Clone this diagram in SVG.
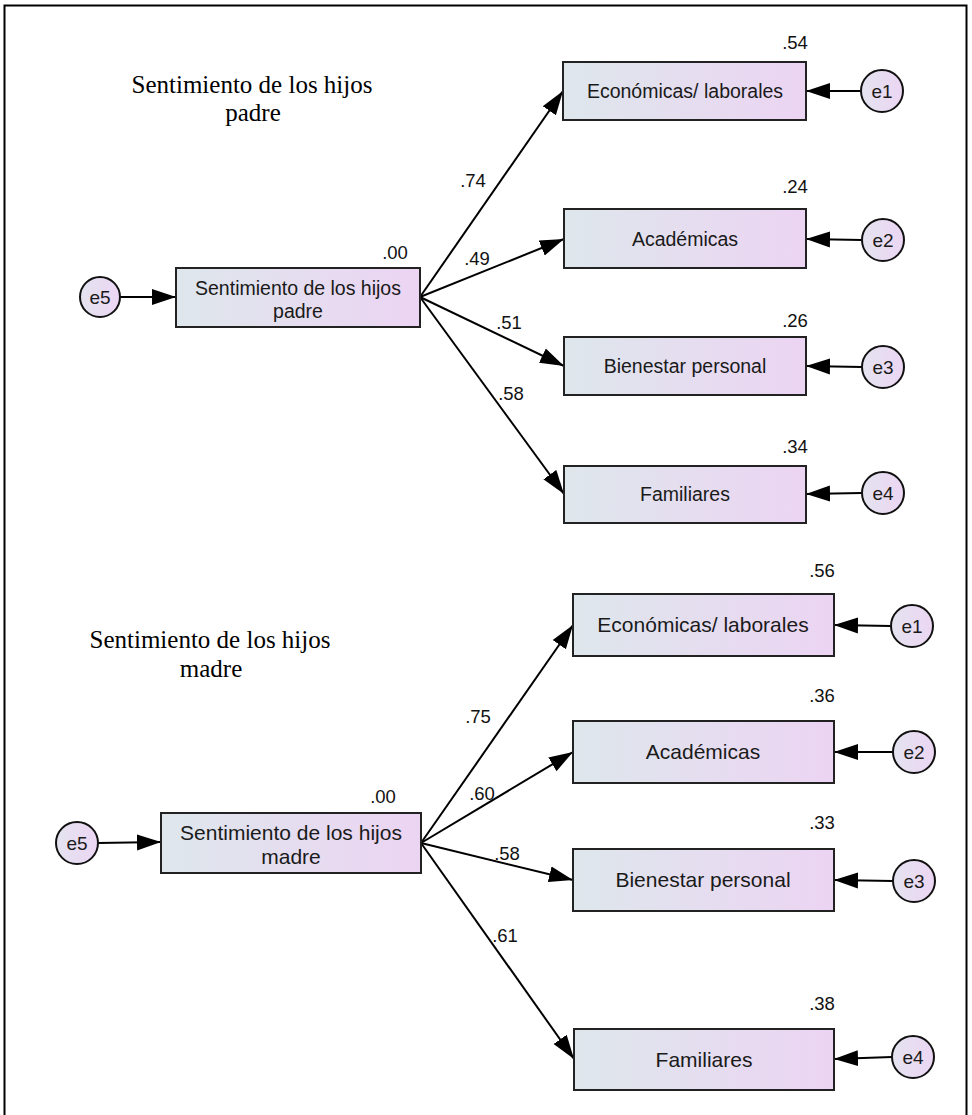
<svg xmlns="http://www.w3.org/2000/svg" width="972" height="1115" viewBox="0 0 972 1115">
<defs>
<linearGradient id="gbox" x1="0" y1="0" x2="1" y2="0">
<stop offset="0" stop-color="#dee7ec"/>
<stop offset="1" stop-color="#ecd4f3"/>
</linearGradient>
<linearGradient id="gcirc" x1="0" y1="0" x2="1" y2="0">
<stop offset="0" stop-color="#e4e3f0"/>
<stop offset="1" stop-color="#ecd6f3"/>
</linearGradient>
<marker id="ah" markerUnits="userSpaceOnUse" markerWidth="26" markerHeight="18" refX="24" refY="9" orient="auto">
<path d="M0,1 L24,9 L0,17 Z" fill="#000"/>
</marker>
<style>
.box{fill:url(#gbox);stroke:#222;stroke-width:2}
.circ{fill:url(#gcirc);stroke:#111;stroke-width:2}
.t1{font-family:"Liberation Sans",Arial,sans-serif;font-size:19.5px;fill:#1a1a1a;text-anchor:middle}
.t2{font-family:"Liberation Sans",Arial,sans-serif;font-size:21px;fill:#1a1a1a;text-anchor:middle}
.te{font-family:"Liberation Sans",Arial,sans-serif;font-size:19px;fill:#1a1a1a;text-anchor:middle}
.lab{font-family:"Liberation Sans",Arial,sans-serif;font-size:18.5px;fill:#111;text-anchor:middle}
.title{font-family:"Liberation Serif","Times New Roman",serif;font-size:25px;fill:#000;text-anchor:middle}
.con{stroke:#000;stroke-width:2;fill:none;marker-end:url(#ah)}
</style>
</defs>
<rect x="0" y="0" width="972" height="1115" fill="#fff"/>
<rect x="4.5" y="5.5" width="962" height="1125" fill="none" stroke="#000" stroke-width="2"/>

<g id="title-padre">
<text class="title" x="252" y="93">Sentimiento de los hijos</text>
<text class="title" x="253" y="121">padre</text>
</g>
<g id="title-madre">
<text class="title" x="210" y="648">Sentimiento de los hijos</text>
<text class="title" x="211" y="677">madre</text>
</g>

<g id="connectors">
<line class="con" x1="120" y1="297" x2="176" y2="297"/>
<line class="con" x1="420" y1="297" x2="563" y2="91"/>
<line class="con" x1="420" y1="297" x2="564" y2="239"/>
<line class="con" x1="420" y1="297" x2="564" y2="366"/>
<line class="con" x1="420" y1="297" x2="564" y2="494"/>
<line class="con" x1="861" y1="91" x2="806" y2="91"/>
<line class="con" x1="862" y1="240" x2="806" y2="239"/>
<line class="con" x1="862" y1="367" x2="806" y2="366"/>
<line class="con" x1="862" y1="493" x2="806" y2="494"/>

<line class="con" x1="98" y1="843" x2="161" y2="842"/>
<line class="con" x1="421" y1="843" x2="573" y2="625"/>
<line class="con" x1="421" y1="843" x2="573" y2="752"/>
<line class="con" x1="421" y1="843" x2="573" y2="880"/>
<line class="con" x1="421" y1="843" x2="574" y2="1059"/>
<line class="con" x1="891" y1="626" x2="834" y2="625"/>
<line class="con" x1="893" y1="752" x2="834" y2="752"/>
<line class="con" x1="893" y1="881" x2="834" y2="880"/>
<line class="con" x1="892" y1="1057" x2="834" y2="1059"/>
</g>

<g id="lbl-coef">
<text class="lab" x="473" y="187">.74</text>
<text class="lab" x="477" y="265">.49</text>
<text class="lab" x="509" y="329">.51</text>
<text class="lab" x="511" y="400">.58</text>
<text class="lab" x="395" y="259">.00</text>
<text class="lab" x="795" y="49">.54</text>
<text class="lab" x="795" y="193">.24</text>
<text class="lab" x="795" y="327">.26</text>
<text class="lab" x="795" y="453">.34</text>

<text class="lab" x="478" y="723">.75</text>
<text class="lab" x="482" y="800">.60</text>
<text class="lab" x="507" y="860">.58</text>
<text class="lab" x="505" y="942">.61</text>
<text class="lab" x="383" y="803">.00</text>
<text class="lab" x="822" y="577">.56</text>
<text class="lab" x="822" y="702">.36</text>
<text class="lab" x="822" y="829">.33</text>
<text class="lab" x="822" y="1010">.38</text>
</g>

<g id="padre-e5"><circle class="circ" cx="100" cy="297" r="20"/><text class="te" x="100" y="304">e5</text></g>
<g id="padre-src"><rect class="box" x="176" y="268" width="244" height="59"/><text class="t1" x="298" y="295">Sentimiento de los hijos</text><text class="t1" x="298" y="318">padre</text></g>
<g id="padre-eco"><rect class="box" x="563" y="62" width="243" height="58"/><text class="t1" x="685" y="98">Económicas/ laborales</text></g>
<g id="padre-aca"><rect class="box" x="564" y="209" width="242" height="59"/><text class="t1" x="685" y="246">Académicas</text></g>
<g id="padre-bie"><rect class="box" x="564" y="337" width="242" height="58"/><text class="t1" x="685" y="373">Bienestar personal</text></g>
<g id="padre-fam"><rect class="box" x="564" y="466" width="242" height="57"/><text class="t1" x="685" y="501">Familiares</text></g>
<g id="padre-e1"><circle class="circ" cx="882" cy="91" r="21"/><text class="te" x="882" y="98">e1</text></g>
<g id="padre-e2"><circle class="circ" cx="883" cy="240" r="21"/><text class="te" x="883" y="247">e2</text></g>
<g id="padre-e3"><circle class="circ" cx="883" cy="367" r="21"/><text class="te" x="883" y="374">e3</text></g>
<g id="padre-e4"><circle class="circ" cx="883" cy="493" r="21"/><text class="te" x="883" y="500">e4</text></g>

<g id="madre-e5"><circle class="circ" cx="77" cy="843" r="21"/><text class="te" x="77" y="850">e5</text></g>
<g id="madre-src"><rect class="box" x="161" y="813" width="260" height="60"/><text class="t2" x="291" y="840">Sentimiento de los hijos</text><text class="t2" x="291" y="864">madre</text></g>
<g id="madre-eco"><rect class="box" x="573" y="594" width="261" height="62"/><text class="t2" x="703" y="632">Económicas/ laborales</text></g>
<g id="madre-aca"><rect class="box" x="573" y="721" width="261" height="62"/><text class="t2" x="703" y="759">Académicas</text></g>
<g id="madre-bie"><rect class="box" x="573" y="849" width="261" height="62"/><text class="t2" x="703" y="887">Bienestar personal</text></g>
<g id="madre-fam"><rect class="box" x="574" y="1029" width="260" height="61"/><text class="t2" x="704" y="1067">Familiares</text></g>
<g id="madre-e1"><circle class="circ" cx="912" cy="626" r="21"/><text class="te" x="912" y="633">e1</text></g>
<g id="madre-e2"><circle class="circ" cx="914" cy="752" r="21"/><text class="te" x="914" y="759">e2</text></g>
<g id="madre-e3"><circle class="circ" cx="914" cy="881" r="21"/><text class="te" x="914" y="888">e3</text></g>
<g id="madre-e4"><circle class="circ" cx="913" cy="1057" r="21"/><text class="te" x="913" y="1064">e4</text></g>
</svg>
